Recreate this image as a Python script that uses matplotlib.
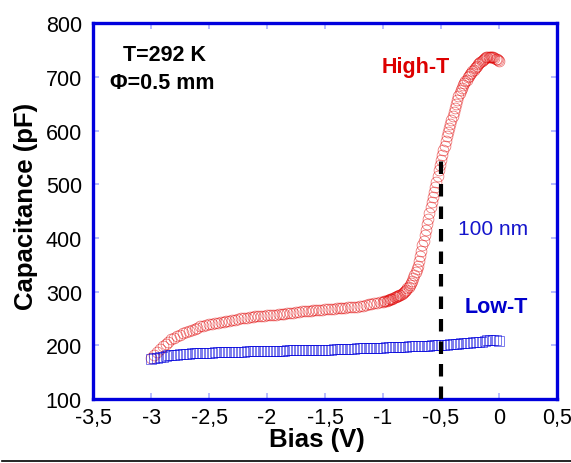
import numpy as np
import matplotlib
matplotlib.use('Agg')
import matplotlib.pyplot as plt
from matplotlib.lines import Line2D

plt.rcParams['font.family'] = ['Liberation Sans', 'DejaVu Sans']

# High-T sweep (bias in V, capacitance in pF), finer steps where the curve is steep
bias_high = [-3.000, -2.975, -2.950, -2.925, -2.900, -2.875, -2.850, -2.825, -2.800, -2.775,
             -2.750, -2.725, -2.700, -2.675, -2.650, -2.625, -2.600, -2.575, -2.550, -2.525,
             -2.500, -2.475, -2.450, -2.425, -2.400, -2.375, -2.350, -2.325, -2.300, -2.275,
             -2.250, -2.225, -2.200, -2.175, -2.150, -2.125, -2.100, -2.075, -2.050, -2.025,
             -2.000, -1.975, -1.950, -1.925, -1.900, -1.875, -1.850, -1.825, -1.800, -1.775,
             -1.750, -1.725, -1.700, -1.675, -1.650, -1.625, -1.600, -1.575, -1.550, -1.525,
             -1.500, -1.475, -1.450, -1.425, -1.400, -1.375, -1.350, -1.325, -1.300, -1.275,
             -1.250, -1.225, -1.200, -1.175, -1.150, -1.125, -1.100, -1.075, -1.050, -1.025,
             -1.00, -0.99, -0.98, -0.97, -0.96, -0.95, -0.94, -0.93, -0.92, -0.91,
             -0.90, -0.89, -0.88, -0.87, -0.86, -0.85, -0.84, -0.83, -0.82, -0.81,
             -0.80, -0.79, -0.78, -0.77, -0.76, -0.75, -0.74, -0.73, -0.72, -0.71,
             -0.70, -0.69, -0.68, -0.67, -0.66, -0.65, -0.64, -0.63, -0.62, -0.61,
             -0.60, -0.59, -0.58, -0.57, -0.56, -0.55, -0.54, -0.53, -0.52, -0.51,
             -0.50, -0.49, -0.48, -0.47, -0.46, -0.45, -0.44, -0.43, -0.42, -0.41,
             -0.40, -0.39, -0.38, -0.37, -0.36, -0.35, -0.34, -0.33, -0.32, -0.31,
             -0.30, -0.29, -0.28, -0.27, -0.26, -0.25, -0.24, -0.23, -0.22, -0.21,
             -0.20, -0.19, -0.18, -0.17, -0.16, -0.15, -0.14, -0.13, -0.12, -0.11,
             -0.10, -0.09, -0.08, -0.07, -0.06, -0.05, -0.04, -0.03, -0.02, -0.01,
             0.00]
cap_high = [176, 182, 188, 193, 198, 203, 207, 211, 214, 217,
            220, 223, 225, 227, 229, 231, 233, 235, 236, 238,
            239, 240, 241, 242, 243, 244, 245, 246, 247, 248,
            249, 250, 251, 251, 252, 253, 254, 254, 255, 255,
            256, 256, 257, 257, 258, 258, 259, 260, 261, 261,
            262, 262, 263, 263, 264, 264, 265, 265, 266, 266,
            267, 267, 268, 268, 269, 269, 270, 270, 271, 271,
            272, 272, 273, 274, 275, 276, 277, 278, 279, 280,
            281, 282, 283, 283, 284, 285, 286, 286, 287, 288,
            289, 290, 291, 292, 293, 294, 296, 297, 299, 301,
            303, 306, 309, 312, 316, 320, 325, 330, 336, 342,
            348, 357, 366, 376, 386, 395, 405, 415, 425, 436,
            446, 457, 467, 477, 486, 495, 505, 516, 526, 536,
            546, 555, 563, 572, 580, 589, 597, 605, 612, 620,
            627, 634, 641, 649, 657, 664, 670, 675, 680, 684,
            688, 692, 695, 699, 702, 705, 707, 710, 713, 716,
            718, 721, 723, 726, 728, 730, 732, 734, 735, 736,
            737, 737, 737, 737, 737, 736, 735, 734, 733, 731,
            730]

# Low-T sweep
bias_low = [-3.000, -2.975, -2.950, -2.925, -2.900, -2.875, -2.850, -2.825, -2.800, -2.775,
            -2.750, -2.725, -2.700, -2.675, -2.650, -2.625, -2.600, -2.575, -2.550, -2.525,
            -2.500, -2.475, -2.450, -2.425, -2.400, -2.375, -2.350, -2.325, -2.300, -2.275,
            -2.250, -2.225, -2.200, -2.175, -2.150, -2.125, -2.100, -2.075, -2.050, -2.025,
            -2.000, -1.975, -1.950, -1.925, -1.900, -1.875, -1.850, -1.825, -1.800, -1.775,
            -1.750, -1.725, -1.700, -1.675, -1.650, -1.625, -1.600, -1.575, -1.550, -1.525,
            -1.500, -1.475, -1.450, -1.425, -1.400, -1.375, -1.350, -1.325, -1.300, -1.275,
            -1.250, -1.225, -1.200, -1.175, -1.150, -1.125, -1.100, -1.075, -1.050, -1.025,
            -1.000, -0.975, -0.950, -0.925, -0.900, -0.875, -0.850, -0.825, -0.800, -0.775,
            -0.750, -0.725, -0.700, -0.675, -0.650, -0.625, -0.600, -0.575, -0.550, -0.525,
            -0.500, -0.475, -0.450, -0.425, -0.400, -0.375, -0.350, -0.325, -0.300, -0.275,
            -0.250, -0.225, -0.200, -0.175, -0.150, -0.125, -0.100, -0.075, -0.050, -0.025,
            0.000]
cap_low = [174, 176, 177, 178, 179, 180, 181, 181, 182, 182,
           183, 183, 184, 184, 185, 185, 185, 185, 186, 186,
           186, 186, 187, 187, 187, 187, 187, 188, 188, 188,
           188, 188, 188, 189, 189, 189, 189, 189, 189, 190,
           190, 190, 190, 190, 190, 190, 190, 191, 191, 191,
           191, 191, 191, 191, 191, 192, 192, 192, 192, 192,
           192, 192, 192, 193, 193, 193, 193, 193, 193, 193,
           193, 194, 194, 194, 194, 194, 194, 195, 195, 195,
           195, 196, 196, 196, 196, 197, 197, 197, 197, 198,
           198, 198, 198, 199, 199, 199, 199, 200, 200, 200,
           200, 201, 201, 202, 202, 203, 203, 204, 204, 205,
           205, 206, 206, 207, 207, 208, 209, 210, 210, 210,
           208]

xticks = [-3.5, -3, -2.5, -2, -1.5, -1, -0.5, 0, 0.5]
xtick_labels = ['-3,5', '-3', '-2,5', '-2', '-1,5', '-1', '-0,5', '0', '0,5']
yticks = [100, 200, 300, 400, 500, 600, 700, 800]

# depletion marker at -0.5 V
mark_bias = -0.5
mark_top = 558

fig = plt.figure(figsize=(5.71, 4.64), dpi=100)
ax = fig.add_axes([0.163, 0.138, 0.8125, 0.810])

ax.plot(bias_high, cap_high, linestyle='none', marker='o', markersize=7.8,
        markerfacecolor='none', markeredgecolor='#e00000', markeredgewidth=0.5,
        alpha=0.6, zorder=2)
ax.plot(bias_low, cap_low, linestyle='none', marker='s', markersize=6.8,
        markerfacecolor='none', markeredgecolor='#0000dd', markeredgewidth=0.6,
        alpha=0.6, zorder=3)
ax.plot([mark_bias, mark_bias], [100, mark_top], color='black', linewidth=3,
        dashes=(3.0, 2.4), zorder=4)

ax.set_xlim(-3.5, 0.5)
ax.set_ylim(100, 800)
ax.set_xticks(xticks)
ax.set_xticklabels(xtick_labels)
ax.set_yticks(yticks)

for side in ax.spines.values():
    side.set_color('#0000dd')
    side.set_linewidth(2.4)

ax.tick_params(direction='in', length=4, width=1.2, color='#aab0ff',
               top=True, right=True, labelsize=15.5, labelcolor='black')
ax.tick_params(axis='x', pad=6)
ax.tick_params(axis='y', pad=8)

ax.set_xlabel('Bias (V)', fontsize=18.5, fontweight='bold')
ax.set_ylabel('Capacitance (pF)', fontsize=18.5, fontweight='bold')
ax.xaxis.set_label_coords(0.483, -0.075)
ax.yaxis.set_label_coords(-0.118, 0.515)

ax.text(-2.88, 742, 'T=292 K', fontsize=15.5, fontweight='bold',
        ha='center', va='center')
ax.text(-2.90, 690, '\u03a6=0.5 mm', fontsize=15.5, fontweight='bold',
        ha='center', va='center')
ax.text(-0.72, 720, 'High-T', fontsize=15.5, fontweight='bold',
        color='#dd0000', ha='center', va='center')
ax.text(-0.05, 417, '100 nm', fontsize=15, color='#1515cc',
        ha='center', va='center')
ax.text(-0.026, 273, 'Low-T', fontsize=15.5, fontweight='bold',
        color='#0000cc', ha='center', va='center')

fig.add_artist(Line2D([0.004, 1.0], [0.005, 0.005], color='black', linewidth=1.2))

plt.savefig('out.png', dpi=100)
plt.close()
